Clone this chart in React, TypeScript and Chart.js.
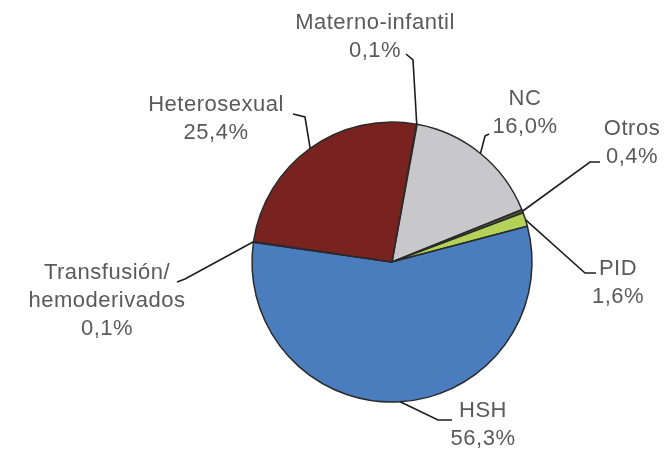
import React, { useEffect, useRef } from "react";
import { Chart, registerables } from "chart.js";

Chart.register(...registerables);

// ---- Data ----
const categories = [
  "Materno-infantil",
  "NC",
  "Otros",
  "PID",
  "HSH",
  "Transfusión/\nhemoderivados",
  "Heterosexual",
];
const values = [0.1, 16.0, 0.4, 1.6, 56.3, 0.1, 25.4];
const sliceColors = [
  "#d9d9d9",
  "#c8c7c9",
  "#4a4f3a",
  "#b2d357",
  "#4a7dbd",
  "#8db3e2",
  "#78231f",
];

// ---- Label layout (offsets from the pie centre, px) ----
// elbow + end of leader line, text centre x, first line centre y
const labelElbows = [
  [[21, -202], [14, -208]],
  [[93, -126], [97, -128]],
  [[198, -100], [208, -100]],
  [[193, 11], [204, 11]],
  [[46, 158], [60, 158]],
  [[-207, 17], [-215, 20]],
  [[-87, -145], [-99, -148]],
];
const labelText = [
  [-17, -239],
  [133, -163],
  [240, -133],
  [226, 7],
  [91, 149],
  [-285, 11],
  [-176, -157],
];

const fmt = (v: number) => v.toFixed(1).replace(".", ",") + "%";

const labelPlugin = {
  id: "pieLabels",
  afterDatasetsDraw(chart: any) {
    const meta = chart.getDatasetMeta(0);
    const ctx = chart.ctx as CanvasRenderingContext2D;
    ctx.save();
    meta.data.forEach((arc: any, i: number) => {
      const { x, y, startAngle, endAngle, outerRadius } = arc.getProps(
        ["x", "y", "startAngle", "endAngle", "outerRadius"],
        true
      );
      const mid = (startAngle + endAngle) / 2;
      const ax = x + outerRadius * Math.cos(mid);
      const ay = y + outerRadius * Math.sin(mid);
      ctx.strokeStyle = "#1e1e1e";
      ctx.lineWidth = 1.6;
      ctx.beginPath();
      ctx.moveTo(ax, ay);
      labelElbows[i].forEach(([dx, dy]) => ctx.lineTo(x + dx, y + dy));
      ctx.stroke();

      const lines = categories[i].split("\n").concat([fmt(values[i])]);
      ctx.fillStyle = "#5a5a5a";
      ctx.font = '22px "Liberation Sans", Arial, sans-serif';
      try {
        (ctx as any).letterSpacing = "0.5px";
      } catch (e) {}
      ctx.textAlign = "center";
      ctx.textBaseline = "middle";
      const [tx, ty] = labelText[i];
      lines.forEach((ln, k) => {
        ctx.fillText(ln, x + tx, y + ty + k * 28);
      });
    });
    ctx.restore();
  },
};

export default function App() {
  const ref = useRef<HTMLCanvasElement>(null);
  useEffect(() => {
    if (!ref.current) return;
    const chart = new Chart(ref.current, {
      type: "pie",
      data: {
        labels: categories.map((c) => c.replace("\n", "")),
        datasets: [
          {
            data: values,
            backgroundColor: sliceColors,
            borderColor: "#2a2a2a",
            borderWidth: 1.5,
            radius: 140,
          },
        ],
      },
      options: {
        animation: false,
        responsive: false,
        rotation: 10,
        layout: { padding: { left: 200, right: 82, top: 120, bottom: 50 } },
        plugins: {
          legend: { display: false },
          tooltip: { enabled: false },
        },
      },
      plugins: [labelPlugin],
    });
    return () => chart.destroy();
  }, []);
  return (
    <div style={{ position: "absolute", left: 0, top: 0, width: 666, height: 454, background: "#fff" }}>
      <canvas ref={ref} width={666} height={454} />
    </div>
  );
}
